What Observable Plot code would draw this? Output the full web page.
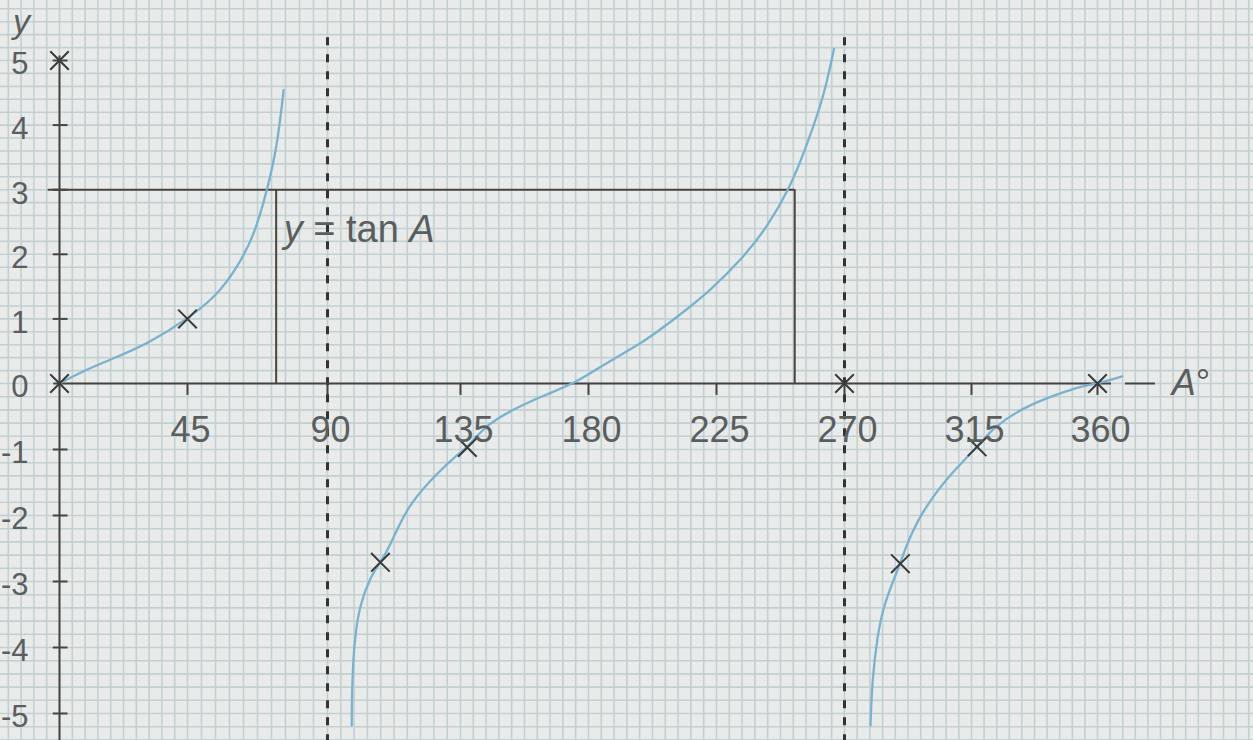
<!DOCTYPE html>
<html>
<head>
<meta charset="utf-8">
<script src="https://cdn.jsdelivr.net/npm/d3@7"></script>
<script src="https://cdn.jsdelivr.net/npm/@observablehq/plot@0.6"></script>
<style>
  html, body { margin: 0; padding: 0; background: #e8ebea; overflow: hidden; }
  #chart svg { display: block; }
</style>
</head>
<body>
<div id="chart"></div>
<script>
// Axis ticks (degrees along A, values along y)
const xTicks = [45, 90, 135, 180, 225, 270, 315, 360];
const yTicks = [5, 4, 3, 2, 1, 0, -1, -2, -3, -4, -5];

// Branch of y = tan A between 0° and the 90° asymptote
const leftA = [0, 8.5, 20.3, 32.0, 45, 54.5, 61.0, 66.3, 70.6, 73.8, 75.9];
const leftY = [0, 0.20, 0.41, 0.64, 1.0, 1.36, 1.80, 2.27, 2.99, 3.66, 4.54];

// Branch between the 90° and 270° asymptotes
const midA = [98.2, 98.3, 99.3, 101.0, 104.5, 107.9, 110.5, 116.9, 124.8, 132.7, 137.4, 144.4, 155.0, 165.5, 176.0,
              187.7, 199.4, 211.2, 222.9, 234.6, 242.8, 251.0, 256.9, 262.7, 266.3];
const midY = [-5.18, -4.50, -3.80, -3.35, -2.93, -2.71, -2.52, -1.87, -1.47, -1.12, -0.97, -0.61, -0.36, -0.16, 0.02,
              0.36, 0.64, 1.03, 1.44, 1.96, 2.42, 3.04, 3.71, 4.43, 5.18];

// Branch after the 270° asymptote, running on past 360°
const rightA = [279.2, 279.8, 281.6, 283.9, 289.8, 291.5, 295.7, 302.8, 309.9, 317.0, 322.9, 333.6, 345.6, 355.1, 360, 368.8];
const rightY = [-5.18, -4.50, -3.84, -3.34, -2.73, -2.50, -2.08, -1.62, -1.27, -0.96, -0.66, -0.36, -0.16, -0.03, 0, 0.11];

// Plotted points marked with a cross
const markA = [0, 0, 45, 107.9, 137.4, 270, 289.8, 317.0, 360];
const markY = [5, 0, 1, -2.71, -0.97, 0, -2.73, -0.96, 0];

// Asymptotes and the tan A = 3 construction
const asymptotes = [90, 270];
const level = 3;
const solutionsA = [73.5, 252.5];

const branches = [["left", leftA, leftY], ["middle", midA, midY], ["right", rightA, rightY]]
  .flatMap(([branch, A, Y]) => A.map((a, i) => ({branch, A: a, y: Y[i]})));
const marks = markA.map((a, i) => ({A: a, y: markY[i]}));

const ink = "#464442";
const labelInk = "#5a5e5f";
const curveInk = "#7ab2cd";
const font = "Liberation Sans, Arial, Helvetica, sans-serif";

// Graph-paper squares: 4.5° across, 0.2 up
const gridA = d3.range(-27, 425, 4.5);
const gridY = d3.range(-6, 6.01, 0.2).map(v => +v.toFixed(2));

const chart = Plot.plot({
  width: 1253,
  height: 740,
  marginTop: 0, marginRight: 0, marginBottom: 0, marginLeft: 0,
  style: {background: "#e8ebea", fontFamily: font},
  x: {type: "linear", domain: [0, 45, 90, 135, 180, 225, 270, 315, 360],
      range: [59, 187, 327, 460, 588, 716, 844, 971, 1097], axis: null},
  y: {type: "linear", domain: [-5, 0, 5], range: [713, 383, 60], axis: null},
  marks: [
    Plot.ruleX(gridA, {stroke: "#c4cfd1", strokeWidth: 1.6}),
    Plot.ruleY(gridY, {stroke: "#c4cfd1", strokeWidth: 1.6}),

    // y = 3 and the two angles where the curve reaches it
    Plot.ruleY([level], {x1: -4, x2: solutionsA[1], stroke: "#4a433e", strokeWidth: 2}),
    Plot.ruleX(solutionsA, {y1: 0, y2: level, stroke: "#4a433e", strokeWidth: 2}),

    // asymptotes
    Plot.ruleX(asymptotes, {y1: -5.7, y2: 5.45, stroke: "#333", strokeWidth: 3, strokeDasharray: "8,9"}),

    // axes
    Plot.ruleX([0], {y1: -5.7, y2: 5.07, stroke: ink, strokeWidth: 2}),
    Plot.ruleY([0], {x1: -2, x2: 365, stroke: ink, strokeWidth: 2}),
    Plot.ruleY([0], {x1: 370, x2: 380.7, stroke: ink, strokeWidth: 2}),
    Plot.ruleY(yTicks.filter(d => d !== 0), {x1: -2.2, x2: 3, stroke: ink, strokeWidth: 2}),
    Plot.ruleX(xTicks, {y1: 0, y2: -0.18, stroke: ink, strokeWidth: 2}),

    // y = tan A
    Plot.line(branches, {x: "A", y: "y", z: "branch", stroke: curveInk, strokeWidth: 2.3, curve: "basis"}),
    Plot.dot(marks, {x: "A", y: "y", symbol: "times", r: 8.5, stroke: "#3a3a3a", strokeWidth: 2}),

    // tick labels
    Plot.text(yTicks, {x: 0, y: d => d, text: d => d < 0 ? "-" + (-d) : String(d),
      textAnchor: "end", dx: -31, dy: 4, fontSize: 31, fill: labelInk, fontFamily: font}),
    Plot.text(xTicks, {x: d => d, y: 0, text: d => String(d), dy: 47, dx: 3,
      fontSize: 36, fill: labelInk, fontFamily: font}),

    // axis names and the curve's equation
    Plot.text(["y"], {x: -13.4, y: 5.6, text: d => d, fontSize: 34, fontStyle: "italic", fill: labelInk, fontFamily: font}),
    Plot.text(["A°"], {x: 386.5, y: 0, text: d => d, textAnchor: "start", fontSize: 36, fill: labelInk, fontFamily: font}),
    Plot.text(["y = tan A"], {x: 75.9, y: 2.38, text: d => d, textAnchor: "start", fontSize: 38, fill: labelInk, fontFamily: font})
  ]
});

// Italicise the variable names inside the mixed-style labels
function italicParts(svg, content, parts) {
  d3.select(svg).selectAll("text")
    .filter(function() { return this.textContent === content; })
    .each(function() {
      const t = d3.select(this);
      t.text(null);
      parts.forEach(([s, it]) => {
        const span = t.append("tspan").text(s);
        if (it) span.attr("font-style", "italic");
      });
    });
}
italicParts(chart, "y = tan A", [["y", true], [" = tan ", false], ["A", true]]);
italicParts(chart, "A°", [["A", true], ["°", false]]);

document.getElementById("chart").appendChild(chart);
</script>
</body>
</html>
